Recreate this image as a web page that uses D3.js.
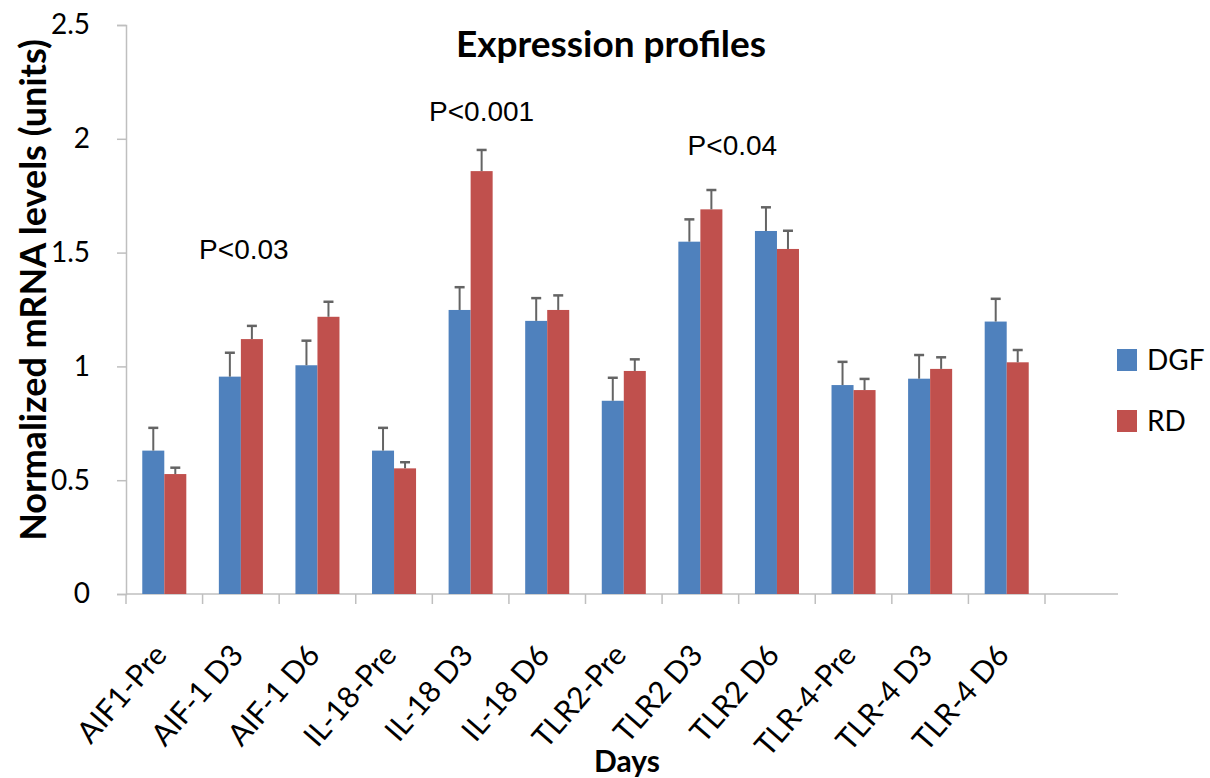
<!DOCTYPE html>
<html>
<head>
<meta charset="utf-8">
<script src="https://cdn.jsdelivr.net/npm/d3@7"></script>
<style>
  body { margin: 0; background: #fff; }
  text { font-family: Lato, "Open Sans", sans-serif; fill: #000; }
</style>
</head>
<body>
<div id="chart"></div>
<script>
// data
var categories = ["AIF1-Pre", "AIF-1 D3", "AIF-1 D6", "IL-18-Pre", "IL-18 D3", "IL-18 D6",
                  "TLR2-Pre", "TLR2 D3", "TLR2 D6", "TLR-4-Pre", "TLR-4 D3", "TLR-4 D6"];
var seriesNames = ["DGF", "RD"];
var dgf    = [0.63, 0.955, 1.005, 0.63, 1.248, 1.20, 0.849, 1.548, 1.595, 0.918, 0.946, 1.197];
var dgfErr = [0.10, 0.105, 0.108, 0.10, 0.100, 0.10, 0.101, 0.098, 0.104, 0.102, 0.104, 0.100];
var rd     = [0.527, 1.12, 1.218, 0.552, 1.858, 1.248, 0.98, 1.69, 1.516, 0.896, 0.989, 1.018];
var rdErr  = [0.028, 0.058, 0.066, 0.027, 0.093, 0.064, 0.051, 0.085, 0.080, 0.049, 0.051, 0.054];
var yTicks = [0, 0.5, 1, 1.5, 2, 2.5];
var pLabels = [
  {text: "P<0.03",  cat: "AIF-1 D3", value: 1.47},
  {text: "P<0.001", cat: "IL-18 D3", value: 2.08},
  {text: "P<0.04",  cat: "TLR2 D3",  value: 1.93}
];

var width = 1210, height = 778;
var plotLeft = 126, slotsRight = 1045, axisEnd = 1118, plotTop = 25, plotBottom = 594;
// horizontal nudge of the p-value labels from their category centre
var pShift = {"AIF-1 D3": 3, "IL-18 D3": 11, "TLR2 D3": 32};

var svg = d3.select("#chart").append("svg")
    .attr("width", width)
    .attr("height", height);

// scales
var x = d3.scaleBand().domain(categories).range([plotLeft, slotsRight]).padding(0);
var groupW = x.bandwidth() * 0.575;
var xs = d3.scaleBand().domain(seriesNames).range([0, groupW]);
var y = d3.scaleLinear().domain([0, 2.5]).range([plotBottom, plotTop]);
var color = d3.scaleOrdinal().domain(seriesNames).range(["#4f81bd", "#c0504d"]);

var rows = categories.map(function(c, i) {
  return {cat: c, vals: [
    {s: "DGF", v: dgf[i], e: dgfErr[i]},
    {s: "RD",  v: rd[i],  e: rdErr[i]}
  ]};
});

// y axis
var yAxis = svg.append("g")
    .attr("transform", "translate(" + plotLeft + ",0)")
    .call(d3.axisLeft(y).tickValues(yTicks).tickFormat(function(d) { return d; })
      .tickSize(9).tickPadding(27));
yAxis.select(".domain").attr("stroke", "#bfbfbf").attr("stroke-width", 1.5);
yAxis.selectAll(".tick line").attr("stroke", "#bfbfbf").attr("stroke-width", 1.5);
yAxis.selectAll(".tick text").attr("font-size", 28).attr("fill", "#000");

// x axis, ticks between categories (Excel style)
var xAxis = svg.append("g");
xAxis.append("line")
    .attr("x1", plotLeft).attr("x2", axisEnd)
    .attr("y1", plotBottom).attr("y2", plotBottom)
    .attr("stroke", "#bfbfbf").attr("stroke-width", 1.5);
var bounds = categories.map(function(c) { return x(c); }).concat([slotsRight]);
xAxis.selectAll(".xt").data(bounds).enter().append("line")
    .attr("x1", d => d).attr("x2", d => d)
    .attr("y1", plotBottom).attr("y2", plotBottom + 10)
    .attr("stroke", "#bfbfbf").attr("stroke-width", 1.5);
xAxis.selectAll(".xl").data(categories).enter().append("text")
    .attr("transform", d => "translate(" + (x(d) + x.bandwidth() / 2 + 4) + "," + (plotBottom + 62) + ") rotate(-49)")
    .attr("text-anchor", "end")
    .attr("font-size", 30)
    .text(d => d);

// bars
var groups = svg.selectAll(".grp").data(rows).enter().append("g")
    .attr("transform", d => "translate(" + (x(d.cat) + (x.bandwidth() - groupW) / 2) + ",0)");

groups.selectAll("rect").data(d => d.vals).enter().append("rect")
    .attr("x", d => xs(d.s))
    .attr("y", d => y(d.v))
    .attr("width", xs.bandwidth())
    .attr("height", d => y(0) - y(d.v))
    .attr("fill", d => color(d.s));

// error bars (upper only)
groups.selectAll(".err").data(d => d.vals).enter().append("line")
    .attr("x1", d => xs(d.s) + xs.bandwidth() / 2)
    .attr("x2", d => xs(d.s) + xs.bandwidth() / 2)
    .attr("y1", d => y(d.v))
    .attr("y2", d => y(d.v + d.e))
    .attr("stroke", "#646464").attr("stroke-width", 2);
groups.selectAll(".cap").data(d => d.vals).enter().append("line")
    .attr("x1", d => xs(d.s) + xs.bandwidth() / 2 - 5)
    .attr("x2", d => xs(d.s) + xs.bandwidth() / 2 + 5)
    .attr("y1", d => y(d.v + d.e))
    .attr("y2", d => y(d.v + d.e))
    .attr("stroke", "#646464").attr("stroke-width", 2.5);

// p-value annotations
svg.selectAll(".p").data(pLabels).enter().append("text")
    .attr("x", d => x(d.cat) + x.bandwidth() / 2 + pShift[d.cat])
    .attr("y", d => y(d.value))
    .attr("text-anchor", "middle")
    .attr("font-size", 28)
    .style("font-family", "'Liberation Sans', Arial, sans-serif")
    .text(d => d.text);

// title
svg.append("text")
    .attr("x", 611).attr("y", 57)
    .attr("text-anchor", "middle")
    .attr("font-size", 37).attr("font-weight", "bold")
    .text("Expression profiles");

// axis titles
svg.append("text")
    .attr("x", 627).attr("y", 772)
    .attr("text-anchor", "middle")
    .attr("font-size", 30).attr("font-weight", "bold")
    .text("Days");
svg.append("text")
    .attr("transform", "translate(46,290) rotate(-90)")
    .attr("text-anchor", "middle")
    .attr("font-size", 36).attr("font-weight", "bold")
    .text("Normalized mRNA levels (units)");

// legend
var legend = svg.selectAll(".lg").data(seriesNames).enter().append("g")
    .attr("transform", (d, i) => "translate(1117," + (349 + i * 61) + ")");
legend.append("rect").attr("width", 20).attr("height", 22).attr("fill", d => color(d));
legend.append("text").attr("x", 30).attr("y", 21).attr("font-size", 28).text(d => d);
</script>
</body>
</html>
